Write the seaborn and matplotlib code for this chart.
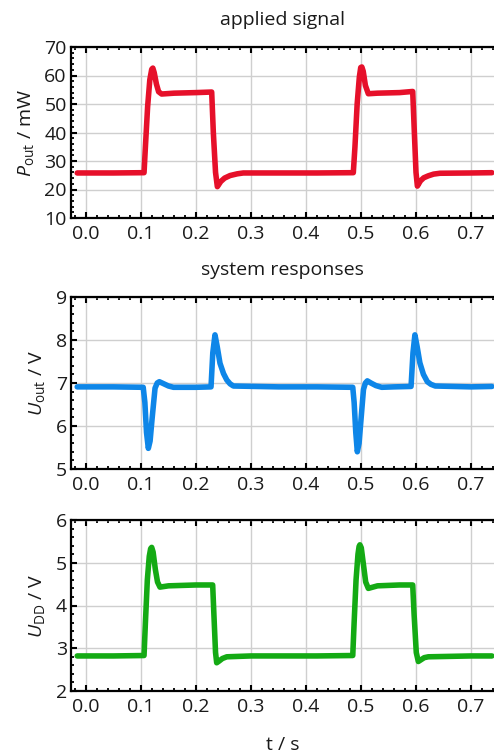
import numpy as np
import pandas as pd
import matplotlib
matplotlib.use("Agg")
import matplotlib.pyplot as plt
from matplotlib.ticker import MultipleLocator, FormatStrFormatter
import seaborn as sns

# ---------------- data ----------------
t_pout = [-0.016, 0.05, 0.1055, 0.108, 0.112, 0.116, 0.1195, 0.1215, 0.124, 0.128, 0.132, 0.1375,
          0.16, 0.2, 0.2285, 0.2315, 0.2355, 0.2388, 0.245, 0.252, 0.262, 0.275, 0.286, 0.35, 0.42,
          0.486, 0.489, 0.493, 0.497, 0.4995, 0.5015, 0.504, 0.508, 0.5133, 0.53, 0.57, 0.594,
          0.597, 0.6, 0.6025, 0.608, 0.614, 0.6224, 0.632, 0.6436, 0.7, 0.738]
pout = [25.8, 25.8, 25.9, 35.0, 49.0, 58.5, 62.2, 62.6, 61.0, 57.0, 54.3, 53.5,
        53.8, 54.0, 54.2, 40.0, 26.0, 21.0, 22.8, 24.0, 24.9, 25.5, 25.8, 25.8, 25.8,
        25.9, 35.0, 50.0, 59.5, 62.8, 63.0, 61.5, 56.5, 53.6, 53.8, 54.0, 54.4,
        40.0, 26.0, 21.2, 23.0, 24.1, 24.8, 25.4, 25.7, 25.8, 25.9]

t_uout = [-0.016, 0.05, 0.104, 0.107, 0.110, 0.1133, 0.1165, 0.120, 0.1255, 0.1295, 0.1333, 0.14,
          0.15, 0.159, 0.2, 0.2273, 0.2305, 0.2345, 0.2385, 0.2436, 0.25, 0.256, 0.262, 0.268,
          0.35, 0.42, 0.485, 0.4875, 0.4905, 0.4933, 0.4965, 0.50, 0.5045, 0.508, 0.5115, 0.518,
          0.527, 0.5376, 0.56, 0.591, 0.5945, 0.598, 0.602, 0.607, 0.6135, 0.6206, 0.627, 0.635,
          0.7, 0.738]
uout = [6.91, 6.91, 6.90, 6.55, 5.85, 5.48, 5.65, 6.15, 6.88, 7.0, 7.03, 6.99,
        6.93, 6.90, 6.90, 6.91, 7.7, 8.12, 7.85, 7.46, 7.22, 7.07, 6.98, 6.93,
        6.91, 6.91, 6.90, 6.55, 5.85, 5.40, 5.6, 6.15, 6.85, 7.0, 7.05, 7.0,
        6.94, 6.90, 6.91, 6.92, 7.7, 8.12, 7.85, 7.47, 7.2, 7.03, 6.97, 6.93,
        6.91, 6.92]

t_udd = [-0.016, 0.05, 0.1055, 0.108, 0.1115, 0.115, 0.1175, 0.1194, 0.122, 0.126, 0.130, 0.1345,
         0.15, 0.2, 0.2303, 0.2325, 0.2355, 0.2376, 0.242, 0.248, 0.256, 0.3, 0.42,
         0.485, 0.4875, 0.491, 0.4945, 0.4965, 0.498, 0.5005, 0.5045, 0.5085, 0.5133, 0.53, 0.57,
         0.594, 0.5965, 0.6005, 0.6042, 0.609, 0.615, 0.6224, 0.7, 0.738]
udd = [2.82, 2.82, 2.83, 3.6, 4.6, 5.15, 5.33, 5.36, 5.25, 4.85, 4.55, 4.43,
       4.46, 4.48, 4.48, 3.8, 2.9, 2.66, 2.70, 2.76, 2.80, 2.82, 2.82,
       2.83, 3.6, 4.6, 5.2, 5.38, 5.42, 5.35, 4.95, 4.55, 4.40, 4.46, 4.48,
       4.48, 3.8, 2.9, 2.69, 2.73, 2.78, 2.80, 2.82, 2.82]

x_ticks = [0.0, 0.1, 0.2, 0.3, 0.4, 0.5, 0.6, 0.7]
panel_titles = ["applied signal", "system responses"]
x_label = "t / s"
y_labels = [r"$P_\mathrm{out}$ / mW", r"$U_\mathrm{out}$ / V", r"$U_\mathrm{DD}$ / V"]
y_limits = [(10, 70), (5, 9), (2, 6)]
y_major = [10, 1, 1]
y_minor = [2, 0.2, 0.2]
colors = ["#e6102a", "#0e86e8", "#14aa14"]

# ---------------- style ----------------
sns.set_theme(style="white")
plt.rcParams["font.family"] = ["Open Sans", "DejaVu Sans"]
plt.rcParams["mathtext.fontset"] = "custom"
plt.rcParams["mathtext.rm"] = "Open Sans"
plt.rcParams["mathtext.it"] = "Open Sans:italic"
plt.rcParams["text.color"] = "#1a1a1a"
plt.rcParams["axes.labelcolor"] = "#1a1a1a"
FS = 14

W, H = 494, 756
fig = plt.figure(figsize=(W / 100, H / 100), dpi=100)

# axes positions in pixels (left, top, right, bottom)
RIGHT = 500
boxes = [(71, 47, RIGHT, 218), (71, 297, RIGHT, 469), (71, 520, RIGHT, 691)]
xlim = (-0.0273, (RIGHT - 86) / 550.0)

frames = [
    pd.DataFrame({"t": t_pout, "v": pout}),
    pd.DataFrame({"t": t_uout, "v": uout}),
    pd.DataFrame({"t": t_udd, "v": udd}),
]

for i, (l, tp, r, b) in enumerate(boxes):
    ax = fig.add_axes([l / W, 1 - b / H, (r - l) / W, (b - tp) / H])
    sns.lineplot(data=frames[i], x="t", y="v", ax=ax, color=colors[i], lw=4.0,
                 sort=False, estimator=None, solid_joinstyle="round", solid_capstyle="round")
    ax.set_xlim(*xlim)
    ax.set_ylim(*y_limits[i])
    ax.set_xticks(x_ticks)
    ax.xaxis.set_minor_locator(MultipleLocator(0.02))
    ax.xaxis.set_major_formatter(FormatStrFormatter("%.1f"))
    ax.yaxis.set_major_locator(MultipleLocator(y_major[i]))
    ax.yaxis.set_minor_locator(MultipleLocator(y_minor[i]))
    ax.grid(True, which="major", color="#cfcfcf", lw=1.0)
    ax.set_axisbelow(True)
    for s in ax.spines.values():
        s.set_visible(True)
        s.set_color("black")
        s.set_linewidth(1.6)
    ax.tick_params(which="both", direction="in", top=True, right=True, bottom=True, left=True,
                   colors="black", labelcolor="#1a1a1a", labelsize=FS)
    ax.tick_params(which="major", length=4, width=1.5)
    ax.tick_params(which="minor", length=2.2, width=1.3)
    ax.tick_params(axis="x", which="major", pad=5)
    ax.tick_params(axis="y", which="major", pad=3)
    ax.set_xlabel("")
    ax.set_ylabel(y_labels[i], fontsize=FS, labelpad=6)

cx = (71 + 494) / 2 / W
fig.text(cx, 1 - 20 / H, panel_titles[0], ha="center", va="center", fontsize=FS)
fig.text(cx, 1 - 270 / H, panel_titles[1], ha="center", va="center", fontsize=FS)
fig.text(cx, 1 - 745 / H, x_label, ha="center", va="center", fontsize=FS)

fig.savefig("out.png", dpi=100)
